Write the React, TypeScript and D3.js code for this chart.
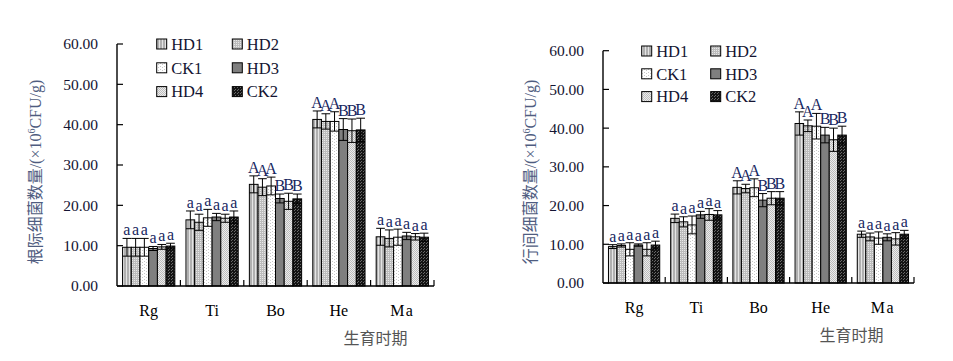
import React from "react";
import * as d3 from "d3";

const categories = ["Rg", "Ti", "Bo", "He", "Ma"];
const seriesNames = ["HD1", "HD2", "CK1", "HD3", "HD4", "CK2"];
const yTicks = [0, 10, 20, 30, 40, 50, 60];

// 根际 (rhizosphere) – values per series across categories
const rhizoHD1 = [9.6, 16.4, 25.2, 41.3, 12.2];
const rhizoHD2 = [9.6, 15.8, 24.5, 40.8, 11.8];
const rhizoCK1 = [9.6, 16.9, 24.8, 40.8, 12.1];
const rhizoHD3 = [9.3, 17.1, 21.7, 38.8, 12.4];
const rhizoHD4 = [9.7, 16.8, 21.0, 38.5, 12.2];
const rhizoCK2 = [9.9, 17.1, 21.6, 38.7, 12.1];
const rhizoErrHD1 = [2.2, 2.2, 2.1, 2.1, 2.1];
const rhizoErrHD2 = [2.2, 2.0, 2.1, 1.9, 2.1];
const rhizoErrCK1 = [2.2, 2.1, 2.2, 2.4, 2.0];
const rhizoErrHD3 = [0.5, 0.9, 1.1, 2.7, 0.9];
const rhizoErrHD4 = [0.6, 1.0, 2.0, 2.9, 0.8];
const rhizoErrCK2 = [0.7, 1.5, 1.2, 2.9, 1.0];

// 行间 (inter-row) – values per series across categories
const interHD1 = [9.4, 16.7, 24.7, 41.2, 12.6];
const interHD2 = [9.7, 15.8, 24.4, 40.6, 11.9];
const interCK1 = [8.7, 15.0, 24.6, 40.5, 11.6];
const interHD3 = [9.8, 17.6, 21.4, 38.2, 11.8];
const interHD4 = [8.7, 17.7, 21.9, 37.0, 11.4];
const interCK2 = [9.8, 17.6, 21.9, 38.2, 12.6];
const interErrHD1 = [0.5, 1.1, 1.7, 3.0, 0.8];
const interErrHD2 = [0.4, 1.3, 1.1, 1.5, 1.0];
const interErrCK1 = [1.7, 2.3, 2.3, 3.3, 1.6];
const interErrHD3 = [0.3, 0.9, 1.7, 2.0, 0.9];
const interErrHD4 = [1.7, 1.5, 1.7, 3.0, 1.6];
const interErrCK2 = [1.0, 1.1, 1.7, 2.3, 1.0];

const rhizoLetters = [
  ["a", "a", "a", "a", "a", "a"],
  ["a", "a", "a", "a", "a", "a"],
  ["A", "A", "A", "B", "B", "B"],
  ["A", "A", "A", "B", "B", "B"],
  ["a", "a", "a", "a", "a", "a"],
];
const interLetters = [
  ["a", "a", "a", "a", "a", "a"],
  ["a", "a", "a", "a", "a", "a"],
  ["A", "A", "A", "B", "B", "B"],
  ["A", "A", "A", "B", "B", "B"],
  ["a", "a", "a", "a", "a", "a"],
];

const rhizoValues = [rhizoHD1, rhizoHD2, rhizoCK1, rhizoHD3, rhizoHD4, rhizoCK2];
const rhizoErrors = [rhizoErrHD1, rhizoErrHD2, rhizoErrCK1, rhizoErrHD3, rhizoErrHD4, rhizoErrCK2];
const interValues = [interHD1, interHD2, interCK1, interHD3, interHD4, interCK2];
const interErrors = [interErrHD1, interErrHD2, interErrCK1, interErrHD3, interErrHD4, interErrCK2];

const SERIF = "Liberation Serif, Times New Roman, serif";
const CJK = "Noto Sans CJK SC, sans-serif";

type PatDef = { base: string; dot: string; w: number; h: number; dots: [number, number][] };
const patternDefs: PatDef[] = [
  { base: "#b0b0b0", dot: "#e4e4e4", w: 3, h: 2, dots: [[0, 0], [0, 1]] },
  { base: "#bcbcbc", dot: "#e8e8e8", w: 2, h: 2, dots: [[0, 0]] },
  { base: "#ffffff", dot: "#c8c8c8", w: 4, h: 3, dots: [[0, 0], [2, 1]] },
  { base: "#7f7f7f", dot: "#7f7f7f", w: 2, h: 2, dots: [] },
  { base: "#ececec", dot: "#bdbdbd", w: 2, h: 2, dots: [[0, 0], [1, 1]] },
  { base: "#141414", dot: "#6a6a6a", w: 3, h: 3, dots: [[0, 0], [1, 2]] },
];

type Geo = {
  x0: number; x1: number; yTop: number; yBottom: number;
  legendX: number; legendY: number; legendDY: number; legendDX: number;
  yTitleX: number; yTitleY: number; xTitleX: number; xTitleY: number;
};

function Chart({ id, values, errors, letters, titleCn, geo }: {
  id: string; values: number[][]; errors: number[][]; letters: string[][]; titleCn: string; geo: Geo;
}) {
  const x = d3.scaleBand<string>().domain(categories).range([geo.x0, geo.x1]).padding(0);
  const xs = d3.scaleBand<string>().domain(seriesNames).range([0, x.bandwidth()]).paddingInner(0).paddingOuter(0.64);
  const y = d3.scaleLinear().domain([0, 60]).range([geo.yBottom, geo.yTop]);
  const bw = xs.bandwidth();
  const fmt = d3.format(".2f");

  return (
    <g>
      <defs>
        {patternDefs.map((p, i) => (
          <pattern key={i} id={`${id}-p${i}`} width={p.w} height={p.h} patternUnits="userSpaceOnUse">
            <rect width={p.w} height={p.h} fill={p.base} />
            {p.dots.map((d, k) => (
              <rect key={k} x={d[0]} y={d[1]} width={1} height={1} fill={p.dot} />
            ))}
          </pattern>
        ))}
      </defs>

      {/* bars */}
      {categories.map((c, ci) =>
        seriesNames.map((s, si) => {
          const v = values[si][ci];
          const bx = (x(c) as number) + (xs(s) as number);
          return (
            <rect key={`b${c}${s}`} x={bx} y={y(v)} width={bw} height={y(0) - y(v)}
              fill={`url(#${id}-p${si})`} stroke="#000" strokeWidth={1} />
          );
        })
      )}

      {/* error bars */}
      {categories.map((c, ci) =>
        seriesNames.map((s, si) => {
          const v = values[si][ci];
          const e = errors[si][ci];
          const bx = (x(c) as number) + (xs(s) as number);
          const cx = bx + bw / 2;
          return (
            <g key={`e${c}${s}`} stroke="#000" strokeWidth={1}>
              <line x1={cx} x2={cx} y1={y(v - e)} y2={y(v + e)} />
              <line x1={bx} x2={bx + bw} y1={y(v + e)} y2={y(v + e)} />
              <line x1={bx} x2={bx + bw} y1={y(v - e)} y2={y(v - e)} />
            </g>
          );
        })
      )}

      {/* significance letters */}
      {categories.map((c, ci) =>
        seriesNames.map((s, si) => {
          const v = values[si][ci];
          const e = errors[si][ci];
          const cx = (x(c) as number) + (xs(s) as number) + bw / 2;
          return (
            <text key={`l${c}${s}`} x={cx} y={y(v + e) - 3} textAnchor="middle"
              fontFamily={SERIF} fontSize={16} fill="#18275f">
              {letters[ci][si]}
            </text>
          );
        })
      )}

      {/* y axis */}
      <line x1={geo.x0} x2={geo.x0} y1={geo.yTop} y2={geo.yBottom} stroke="#000" strokeWidth={1.4} />
      {yTicks.map((t) => (
        <g key={`yt${t}`}>
          <line x1={geo.x0} x2={geo.x0 + 6} y1={y(t)} y2={y(t)} stroke="#000" strokeWidth={1.2} />
          <text x={geo.x0 - 19} y={y(t)} dy="0.35em" textAnchor="end" fontFamily={SERIF} fontSize={15.5} fill="#141432">
            {fmt(t)}
          </text>
        </g>
      ))}

      {/* x axis */}
      <line x1={geo.x0} x2={geo.x1} y1={geo.yBottom} y2={geo.yBottom} stroke="#000" strokeWidth={1.4} />
      {categories.map((c) => (
        <g key={`xt${c}`}>
          <line x1={(x(c) as number) + x.bandwidth()} x2={(x(c) as number) + x.bandwidth()}
            y1={geo.yBottom} y2={geo.yBottom - 6} stroke="#000" strokeWidth={1.2} />
          <text x={(x(c) as number) + x.bandwidth() / 2} y={geo.yBottom + 30} textAnchor="middle"
            fontFamily={SERIF} fontSize={16} fill="#000" letterSpacing={c === "Ma" ? 1.5 : 0}>
            {c}
          </text>
        </g>
      ))}

      {/* x title */}
      <text x={geo.xTitleX} y={geo.xTitleY} textAnchor="middle" fontFamily={CJK} fontSize={16} fill="#555">
        生育时期
      </text>

      {/* y title */}
      <text transform={`translate(${geo.yTitleX},${geo.yTitleY}) rotate(-90)`} textAnchor="middle"
        dy="0.35em" fontSize={16} fill="#4f5c80">
        <tspan fontFamily={CJK}>{titleCn}</tspan>
        <tspan fontFamily={SERIF}>/(×10</tspan>
        <tspan fontFamily={SERIF} fontSize={10} dy="-6">6</tspan>
        <tspan fontFamily={SERIF} dy="6">CFU/g)</tspan>
      </text>

      {/* legend */}
      {seriesNames.map((s, i) => {
        const row = Math.floor(i / 2);
        const col = i % 2;
        const lx = geo.legendX + col * geo.legendDX;
        const ly = geo.legendY + row * geo.legendDY;
        return (
          <g key={`lg${s}`}>
            <rect x={lx} y={ly - 5} width={10} height={10} fill={`url(#${id}-p${i})`} stroke="#000" strokeWidth={1} />
            <text x={lx + 14.5} y={ly} dy="0.35em" fontFamily={SERIF} fontSize={16.5} fill="#141432">
              {s}
            </text>
          </g>
        );
      })}
    </g>
  );
}

export default function App() {
  return (
    <svg width={953} height={361} style={{ position: "absolute", left: 0, top: 0, background: "#fff" }}>
      <rect width={953} height={361} fill="#fff" />
      <Chart id="rz" values={rhizoValues} errors={rhizoErrors} letters={rhizoLetters} titleCn="根际细菌数量"
        geo={{ x0: 117, x1: 434, yTop: 44, yBottom: 286, legendX: 156.7, legendY: 44, legendDY: 23.8, legendDX: 75.6,
          yTitleX: 35, yTitleY: 172, xTitleX: 375.5, xTitleY: 344 }} />
      <Chart id="ir" values={interValues} errors={interErrors} letters={interLetters} titleCn="行间细菌数量"
        geo={{ x0: 603, x1: 914, yTop: 50.7, yBottom: 283, legendX: 641.7, legendY: 51, legendDY: 22.8, legendDX: 69,
          yTitleX: 530, yTitleY: 172, xTitleX: 851.5, xTitleY: 341 }} />
    </svg>
  );
}
